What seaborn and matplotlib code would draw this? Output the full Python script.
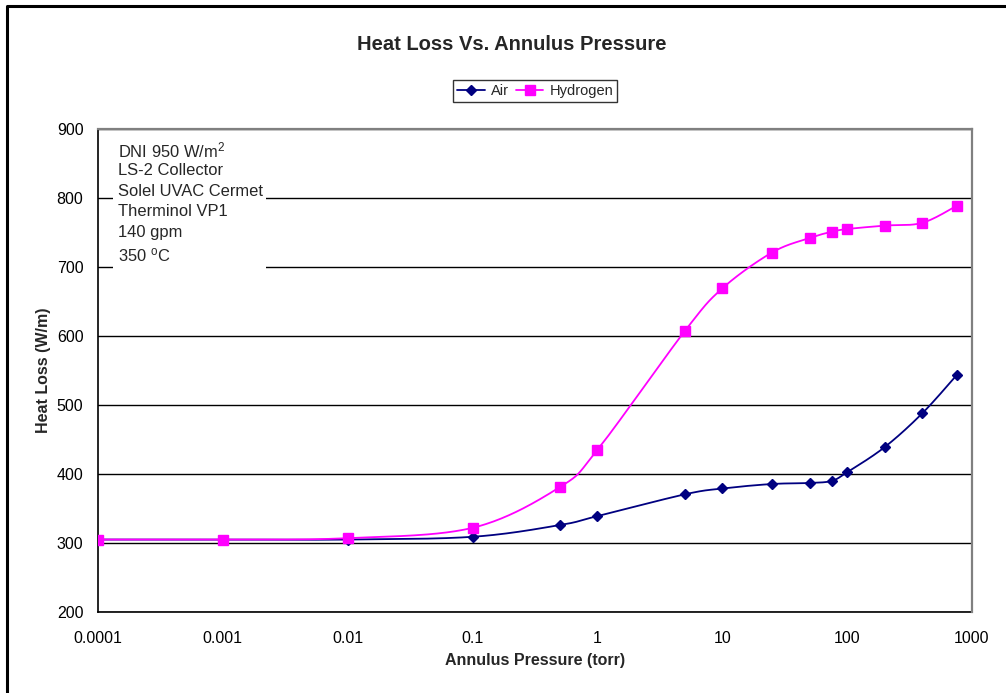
import numpy as np
import pandas as pd
import matplotlib
matplotlib.use("Agg")
import matplotlib.pyplot as plt
import seaborn as sns
from matplotlib.ticker import LogLocator, MultipleLocator, FuncFormatter, NullFormatter, FixedLocator
from matplotlib.lines import Line2D
from matplotlib.patches import Rectangle

# ---- data ----
pressure = [0.0001, 0.001, 0.01, 0.1, 0.5, 1, 5, 10, 25, 50, 75, 100, 200, 400, 760]
air = [305, 305, 305, 309, 326, 339, 370.5, 379, 385.5, 387, 390, 402.5, 439, 488, 544]
hydrogen = [305, 305, 307, 322, 381, 435, 607, 669, 721, 742, 751, 755, 760, 764, 789]
series_names = ["Air", "Hydrogen"]
x_ticks = [0.0001, 0.001, 0.01, 0.1, 1, 10, 100, 1000]
x_tick_labels = ["0.0001", "0.001", "0.01", "0.1", "1", "10", "100", "1000"]
y_ticks = [200, 300, 400, 500, 600, 700, 800, 900]
note_lines = ["DNI 950 W/m$^{2}$", "LS-2 Collector", "Solel UVAC Cermet",
              "Therminol VP1", "140 gpm", "350 $^{\\mathrm{o}}$C"]

colors = {"Air": "#000080", "Hydrogen": "#FF00FF"}
markers = {"Air": "D", "Hydrogen": "s"}
msize = {"Air": 5.5, "Hydrogen": 7}

sns.set_style("white")
plt.rcParams["font.family"] = ["Liberation Sans", "DejaVu Sans"]
plt.rcParams["mathtext.fontset"] = "custom"
plt.rcParams["mathtext.rm"] = "Liberation Sans"
plt.rcParams["mathtext.it"] = "Liberation Sans:italic"
plt.rcParams["mathtext.bf"] = "Liberation Sans:bold"


def smooth(xs, ys, n=40):
    """Excel-style smoothed line (Bezier through points) in log-x space."""
    P = np.column_stack([np.log10(xs), np.asarray(ys, dtype=float)])
    out = []
    for i in range(len(P) - 1):
        p0 = P[i - 1] if i > 0 else P[i]
        p1, p2 = P[i], P[i + 1]
        p3 = P[i + 2] if i + 2 < len(P) else P[i + 1]
        c1 = p1 + (p2 - p0) / 6.0
        c2 = p2 - (p3 - p1) / 6.0
        t = np.linspace(0, 1, n)[:, None]
        seg = (1 - t) ** 3 * p1 + 3 * (1 - t) ** 2 * t * c1 + 3 * (1 - t) * t ** 2 * c2 + t ** 3 * p2
        out.append(seg if i == 0 else seg[1:])
    arr = np.vstack(out)
    return 10 ** arr[:, 0], arr[:, 1]


fig = plt.figure(figsize=(10.06, 6.93), dpi=100)
W, H = 1006, 693
ax = fig.add_axes([98 / W, 1 - 612 / H, (972 - 98) / W, (612 - 129) / H])

pts = pd.DataFrame({
    "pressure": pressure * 2,
    "loss": air + hydrogen,
    "series": ["Air"] * len(air) + ["Hydrogen"] * len(hydrogen),
})

for name in series_names:
    sub = pts[pts.series == name]
    sx, sy = smooth(sub.pressure.values, sub.loss.values)
    curve = pd.DataFrame({"pressure": sx, "loss": sy})
    sns.lineplot(data=curve, x="pressure", y="loss", ax=ax, color=colors[name],
                 lw=1.3, sort=False, estimator=None, zorder=3)
    ax.plot(sub.pressure, sub.loss, ls="none", marker=markers[name],
            ms=msize[name], color=colors[name], mec=colors[name], zorder=4)

ax.set_xscale("log")
ax.set_xlim(0.0001, 1000)
ax.set_ylim(200, 900)

ax.xaxis.set_major_locator(FixedLocator(x_ticks))
ax.xaxis.set_major_formatter(FuncFormatter(lambda v, p: x_tick_labels[x_ticks.index(v)] if v in x_ticks else ""))
ax.xaxis.set_minor_locator(LogLocator(base=10, subs=np.arange(2, 10), numticks=100))
ax.xaxis.set_minor_formatter(NullFormatter())
ax.yaxis.set_major_locator(FixedLocator(y_ticks))
ax.yaxis.set_minor_locator(MultipleLocator(20))

ax.tick_params(axis="both", which="major", direction="inout", length=9, width=1,
               color="black", labelsize=11.5, pad=6, labelcolor="black")
ax.tick_params(axis="both", which="minor", direction="in", length=4, width=1, color="black")
ax.tick_params(axis="x", which="major", pad=9)

ax.set_axisbelow(True)
ax.yaxis.grid(True, which="major", color="black", lw=1)
ax.xaxis.grid(False)

for s in ["left", "bottom"]:
    ax.spines[s].set_color("black")
    ax.spines[s].set_linewidth(1.2)
for s in ["top", "right"]:
    ax.spines[s].set_color("#808080")
    ax.spines[s].set_linewidth(1.6)
    ax.spines[s].set_zorder(5)

ax.set_xlabel("Annulus Pressure (torr)", fontsize=11.5, fontweight="bold", labelpad=5)
ax.set_ylabel("Heat Loss (W/m)", fontsize=11.5, fontweight="bold", labelpad=4)

# note box
def fx(px):
    return (px - 98) / (972 - 98)

def fy(py):
    return (612 - py) / (612 - 129)

ax.add_patch(Rectangle((fx(113), fy(272)), fx(266) - fx(113), fy(138) - fy(272),
                       transform=ax.transAxes, facecolor="white", edgecolor="none", zorder=1))
line_y = [150, 171, 191.5, 212, 233, 255]
for txt, yy in zip(note_lines, line_y):
    ax.text(fx(118), fy(yy), txt, transform=ax.transAxes, fontsize=11.9,
            ha="left", va="center", zorder=6)

fig.text(512 / W, 1 - 45 / H, "Heat Loss Vs. Annulus Pressure", fontsize=14.5,
         fontweight="bold", ha="center", va="center")

handles = [Line2D([0], [0], color=colors[n], lw=1.3, marker=markers[n], ms=msize[n],
                  mec=colors[n]) for n in series_names]
leg = fig.legend(handles, series_names, loc="center", bbox_to_anchor=(535 / W, 1 - 91 / H),
                 ncol=2, frameon=True, fancybox=False, fontsize=10.5, handlelength=1.9,
                 columnspacing=0.5, handletextpad=0.4, borderpad=0.25, borderaxespad=0)
leg.get_frame().set_edgecolor("black")
leg.get_frame().set_linewidth(1)

# outer chart border (left and top visible)
fig.add_artist(Line2D([7 / W, 7 / W, 1.0], [0.0, 1 - 6 / H, 1 - 6 / H], color="black",
                      lw=2.2, transform=fig.transFigure))

fig.savefig("out.png", dpi=100, facecolor="white")
